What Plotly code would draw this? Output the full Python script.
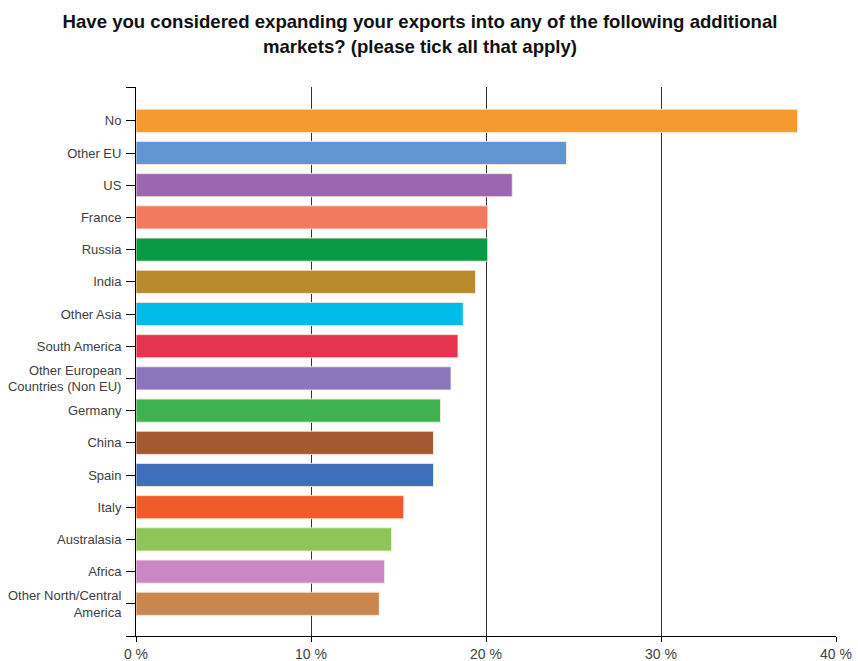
import plotly.graph_objects as go

# Survey answers, top to bottom
markets = [
    "No", "Other EU", "US", "France", "Russia", "India", "Other Asia",
    "South America", "Other European<br>Countries (Non EU)", "Germany",
    "China", "Spain", "Italy", "Australasia", "Africa",
    "Other North/Central<br>America",
]
share_pct = [37.8, 24.6, 21.5, 20.1, 20.1, 19.4, 18.7, 18.4, 18.0, 17.4,
             17.0, 17.0, 15.3, 14.6, 14.2, 13.9]
bar_colors = [
    "#F59A31", "#6196D2", "#9C67AE", "#F27B5F", "#0A9A46", "#B98B2D",
    "#00BCEA", "#E5344F", "#8B76BC", "#3DB24F", "#A35A30", "#3F6FBA",
    "#F05C27", "#8EC555", "#C988C4", "#C9874F",
]
x_ticks = [0, 10, 20, 30, 40]
x_tick_labels = ["0 %", "10 %", "20 %", "30 %", "40 %"]

positions = list(range(len(markets)))
top_end = -1.05
bottom_end = len(markets)

fig = go.Figure(
    go.Bar(
        x=share_pct,
        y=positions,
        orientation="h",
        marker=dict(color=bar_colors,
                    line=dict(color="rgba(245,235,220,0.9)", width=1)),
        width=0.72,
        hoverinfo="x+y",
    )
)

fig.update_layout(
    width=858,
    height=661,
    margin=dict(l=136, r=22, t=87, b=25, autoexpand=False),
    paper_bgcolor="white",
    plot_bgcolor="white",
    showlegend=False,
    font=dict(family="Liberation Sans, Arial, sans-serif", color="#404040", size=12),
    title=dict(
        text="Have you considered expanding your exports into any of the following additional<br>markets? (please tick all that apply)",
        x=0.4895,
        xanchor="center",
        xref="container",
        y=0.957,
        yanchor="top",
        yref="container",
        font=dict(family="Liberation Sans, Arial, sans-serif", size=18.6, color="#111111", weight="bold"),
    ),
)

fig.update_xaxes(
    range=[0, 40],
    tickvals=x_ticks,
    ticktext=x_tick_labels,
    automargin=False,
    showgrid=True,
    gridcolor="#333333",
    gridwidth=1,
    zeroline=False,
    showline=True,
    linecolor="black",
    linewidth=1,
    ticks="outside",
    ticklen=5,
    tickcolor="black",
    tickfont=dict(size=14, color="#404040"),
)

fig.update_yaxes(
    range=[bottom_end, top_end],
    tickvals=[top_end] + positions + [bottom_end],
    ticktext=[""] + markets + [""],
    automargin=False,
    showgrid=False,
    zeroline=False,
    showline=True,
    linecolor="black",
    linewidth=1,
    ticks="outside",
    ticklen=9,
    tickcolor="black",
    ticklabelstandoff=2,
    tickfont=dict(size=13, color="#404040"),
)

fig.write_html("out.html")
